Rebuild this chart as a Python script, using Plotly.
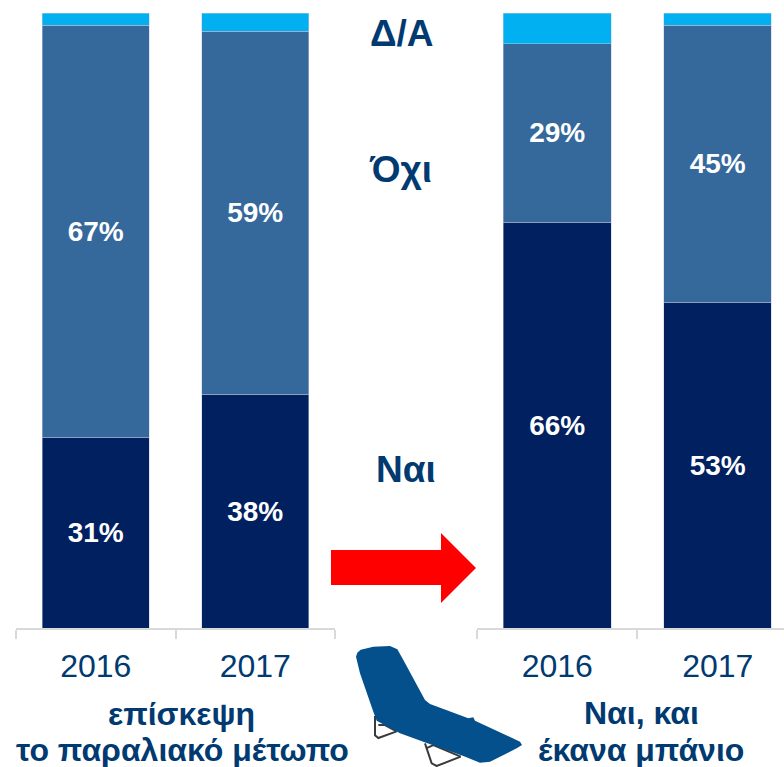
import plotly.graph_objects as go

W, H = 784, 767
years = ["2016", "2017"]
yes_left = [31, 38]
no_left = [67, 59]
na_left = [2, 3]
yes_right = [66, 53]
no_right = [29, 45]
na_right = [5, 2]

NAVY, MID, LIGHT = "#002060", "#35689b", "#00b0f0"
TEXT = "#003a70"
FONT = "Liberation Sans, Arial, sans-serif"
TOP, BASE = 13, 628


def px(x):
    return x / W


def py(y):
    return 1 - y / H


def path(pts):
    return "M " + " L ".join(f"{px(x):.5f},{py(y):.5f}" for x, y in pts) + " Z"


def open_path(pts):
    return "M " + " L ".join(f"{px(x):.5f},{py(y):.5f}" for x, y in pts)


fig = go.Figure()
for xa, ya, yes, no, na in [("x", "y", yes_left, no_left, na_left),
                            ("x2", "y2", yes_right, no_right, na_right)]:
    for name, vals, col, lab in [("Ναι", yes, NAVY, True), ("Όχι", no, MID, True), ("Δ/Α", na, LIGHT, False)]:
        fig.add_trace(go.Bar(
            x=years, y=vals, name=name, xaxis=xa, yaxis=ya,
            marker=dict(color=col, line=dict(color="rgba(190,205,225,0.7)", width=0.7)),
            text=[f"{v}%" for v in vals] if lab else None,
            textposition="inside" if lab else "none",
            insidetextanchor="middle", textangle=0,
            insidetextfont=dict(family=FONT, size=28, color="white", weight="bold"),
            showlegend=False, hoverinfo="name+y",
        ))

axis_common = dict(
    type="category", tickson="boundaries", ticks="outside", ticklen=9, tickwidth=2,
    tickcolor="#d9d9d9", showline=True, linecolor="#d9d9d9", linewidth=2,
    showgrid=False, zeroline=False, tickfont=dict(family=FONT, size=32, color=TEXT),
    ticklabelstandoff=9,
)
y_common = dict(range=[0, 100], visible=False, fixedrange=True)
y_domain = [py(BASE), py(TOP)]

annots = [
    ("Δ/Α", 402, 33), ("Όχι", 400, 170), ("Ναι", 406, 469),
]
annotations = [dict(text=t, x=px(x), y=py(y), xref="paper", yref="paper", showarrow=False,
                    xanchor="center", yanchor="middle",
                    font=dict(family=FONT, size=37, color=TEXT, weight="bold")) for t, x, y in annots]
bottom = [
    ("επίσκεψη", 181, 714), ("το παραλιακό μέτωπο", 182, 750),
    ("Ναι, και", 641, 713), ("έκανα μπάνιο", 641, 750),
]
annotations += [dict(text=t, x=px(x), y=py(y), xref="paper", yref="paper", showarrow=False,
                     xanchor="center", yanchor="middle",
                     font=dict(family=FONT, size=32, color=TEXT, weight="bold")) for t, x, y in bottom]

arrow = [(331, 550), (441, 550), (441, 533), (476, 568), (441, 603), (441, 585), (331, 585)]
chair_z = [(48, 80), (52, 68), (62, 59), (100, 50), (150, 48), (172, 58), (190, 90), (255, 210), (270, 222),
           (385, 265), (400, 262), (405, 272), (540, 335), (546, 345), (530, 355), (450, 395), (420, 398),
           (370, 378), (250, 335), (180, 310), (110, 272), (100, 245), (60, 130)]
chair = [(340 + x / 3, 630 + y / 3) for x, y in chair_z]
leg1 = [(340 + x / 3, 630 + y / 3) for x, y in [(105, 258), (105, 316), (115, 324), (170, 304)]]
leg1b = [(340 + x / 3, 630 + y / 3) for x, y in [(115, 285), (135, 285), (170, 304)]]
leg2 = [(340 + x / 3, 630 + y / 3) for x, y in [(255, 340), (275, 400), (290, 408), (362, 380)]]
leg2b = [(340 + x / 3, 630 + y / 3) for x, y in [(258, 355), (280, 345), (362, 380)]]

shapes = [dict(type="path", path=path(arrow), xref="paper", yref="paper", fillcolor="#ff0000", line=dict(width=0))]
for leg in (leg1, leg1b, leg2, leg2b):
    shapes.append(dict(type="path", path=open_path(leg), xref="paper", yref="paper",
                       line=dict(color="#3a3a3a", width=2)))
shapes.append(dict(type="path", path=path(chair), xref="paper", yref="paper", fillcolor="#04508c",
                   line=dict(width=0)))

fig.update_layout(
    width=W, height=H, barmode="stack", bargap=0.33,
    margin=dict(l=0, r=0, t=0, b=0), paper_bgcolor="white", plot_bgcolor="white",
    xaxis=dict(domain=[px(16), px(335)], range=[-0.5, 1.5], anchor="y", **axis_common),
    xaxis2=dict(domain=[px(477), 1], range=[-0.5, 1.413], anchor="y2", **axis_common),
    yaxis=dict(domain=y_domain, anchor="x", **y_common),
    yaxis2=dict(domain=y_domain, anchor="x2", **y_common),
    annotations=annotations, shapes=shapes,
)
fig.write_html("out.html", config=dict(displayModeBar=False),
               post_script="document.body.style.margin='0';document.documentElement.style.overflow='hidden';")
